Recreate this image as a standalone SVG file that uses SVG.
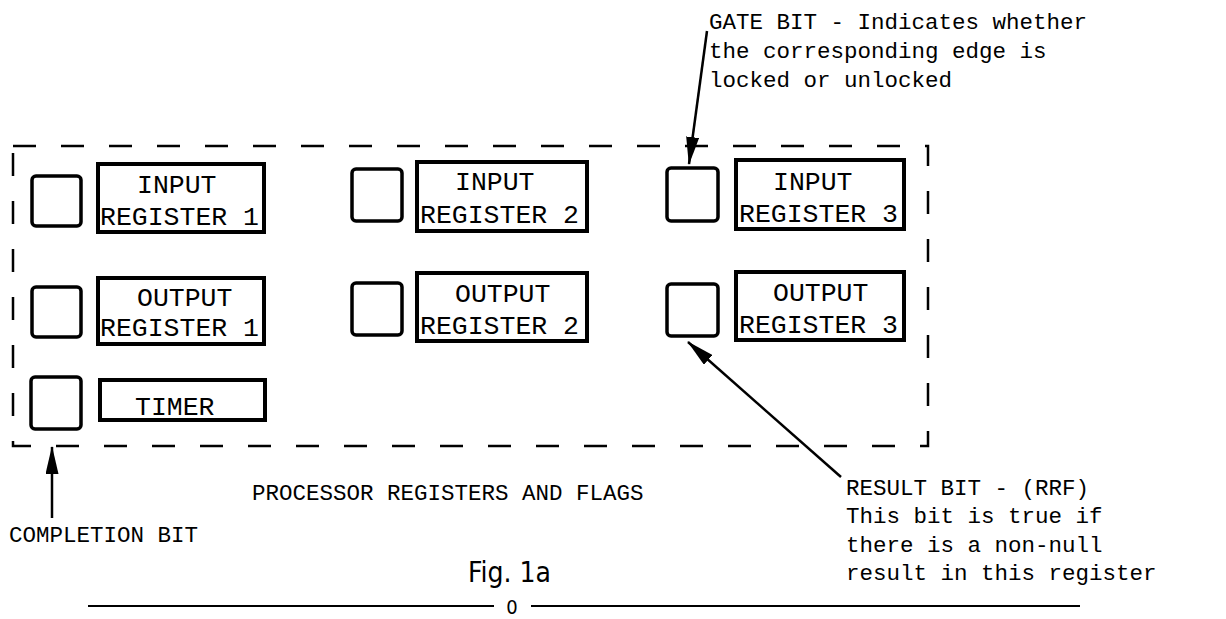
<svg xmlns="http://www.w3.org/2000/svg" width="1226" height="619" viewBox="0 0 1226 619">
<defs>
<style>
.flag{fill:none;stroke:#000;stroke-width:3.5}
.reg{fill:none;stroke:#000;stroke-width:4}
.lbl{font-family:"Liberation Mono","Courier New",monospace;font-size:26.5px;fill:#000}
.ann{font-family:"Liberation Mono","Courier New",monospace;font-size:22.5px;fill:#000}
.frame{fill:none;stroke:#000;stroke-width:2.5;stroke-dasharray:23 25}
.conn{stroke:#000;stroke-width:2.5;fill:none}
.rule{stroke:#000;stroke-width:2}
</style>
<marker id="ah" viewBox="0 0 28 13" refX="27" refY="6.5" markerWidth="28" markerHeight="13" markerUnits="userSpaceOnUse" orient="auto">
<path d="M0,0 L28,6.5 L0,13 z" fill="#000"/>
</marker>
</defs>
<rect width="1226" height="619" fill="#fff"/>
<rect id="frame" class="frame" x="13" y="146" width="915" height="300"/>

<g id="in1">
<rect class="flag" x="32" y="176" width="49" height="50" rx="4"/>
<rect class="reg" x="98" y="164" width="166" height="68"/>
<text class="lbl" x="137" y="193">INPUT</text>
<text class="lbl" x="100" y="225">REGISTER 1</text>
</g>
<g id="in2">
<rect class="flag" x="352" y="169" width="50" height="52" rx="4"/>
<rect class="reg" x="417" y="162" width="170" height="69"/>
<text class="lbl" x="455" y="190">INPUT</text>
<text class="lbl" x="420" y="223">REGISTER 2</text>
</g>
<g id="in3">
<rect class="flag" x="667" y="168" width="51" height="53" rx="4"/>
<rect class="reg" x="736" y="160" width="168" height="69"/>
<text class="lbl" x="773" y="190">INPUT</text>
<text class="lbl" x="739" y="222">REGISTER 3</text>
</g>

<g id="out1">
<rect class="flag" x="32" y="287" width="49" height="50" rx="4"/>
<rect class="reg" x="98" y="278" width="166" height="66"/>
<text class="lbl" x="137" y="306">OUTPUT</text>
<text class="lbl" x="100" y="336">REGISTER 1</text>
</g>
<g id="out2">
<rect class="flag" x="352" y="283" width="50" height="52" rx="4"/>
<rect class="reg" x="417" y="273" width="170" height="68"/>
<text class="lbl" x="455" y="302">OUTPUT</text>
<text class="lbl" x="420" y="334">REGISTER 2</text>
</g>
<g id="out3">
<rect class="flag" x="667" y="284" width="51" height="52" rx="4"/>
<rect class="reg" x="736" y="272" width="168" height="68"/>
<text class="lbl" x="773" y="301">OUTPUT</text>
<text class="lbl" x="739" y="333">REGISTER 3</text>
</g>

<g id="timer">
<rect class="flag" x="31" y="377" width="50" height="52" rx="4"/>
<rect class="reg" x="100" y="380" width="165" height="40"/>
<text class="lbl" x="135" y="415">TIMER</text>
</g>

<g id="connectors">
<line class="conn" x1="707" y1="31" x2="689" y2="164" marker-end="url(#ah)"/>
<line class="conn" x1="52" y1="518" x2="52" y2="447" marker-end="url(#ah)"/>
<line class="conn" x1="841" y1="477" x2="688" y2="342" marker-end="url(#ah)"/>
</g>

<g id="gate-note">
<text class="ann" x="709" y="29">GATE BIT - Indicates whether</text>
<text class="ann" x="709" y="58">the corresponding edge is</text>
<text class="ann" x="709" y="87">locked or unlocked</text>
</g>
<g id="result-note">
<text class="ann" x="846" y="495">RESULT BIT - (RRF)</text>
<text class="ann" x="846" y="523">This bit is true if</text>
<text class="ann" x="846" y="552">there is a non-null</text>
<text class="ann" x="846" y="580">result in this register</text>
</g>
<text class="ann" x="252" y="500">PROCESSOR REGISTERS AND FLAGS</text>
<text class="ann" x="9" y="542">COMPLETION BIT</text>
<text x="468" y="582" font-family="'DejaVu Sans Condensed','DejaVu Sans',sans-serif" font-size="28">Fig. 1a</text>
<line class="rule" x1="88" y1="606" x2="494" y2="606"/>
<text x="512" y="614" font-family="'DejaVu Sans Condensed','DejaVu Sans',sans-serif" font-size="20" text-anchor="middle">0</text>
<line class="rule" x1="531" y1="606" x2="1080" y2="606"/>
</svg>
